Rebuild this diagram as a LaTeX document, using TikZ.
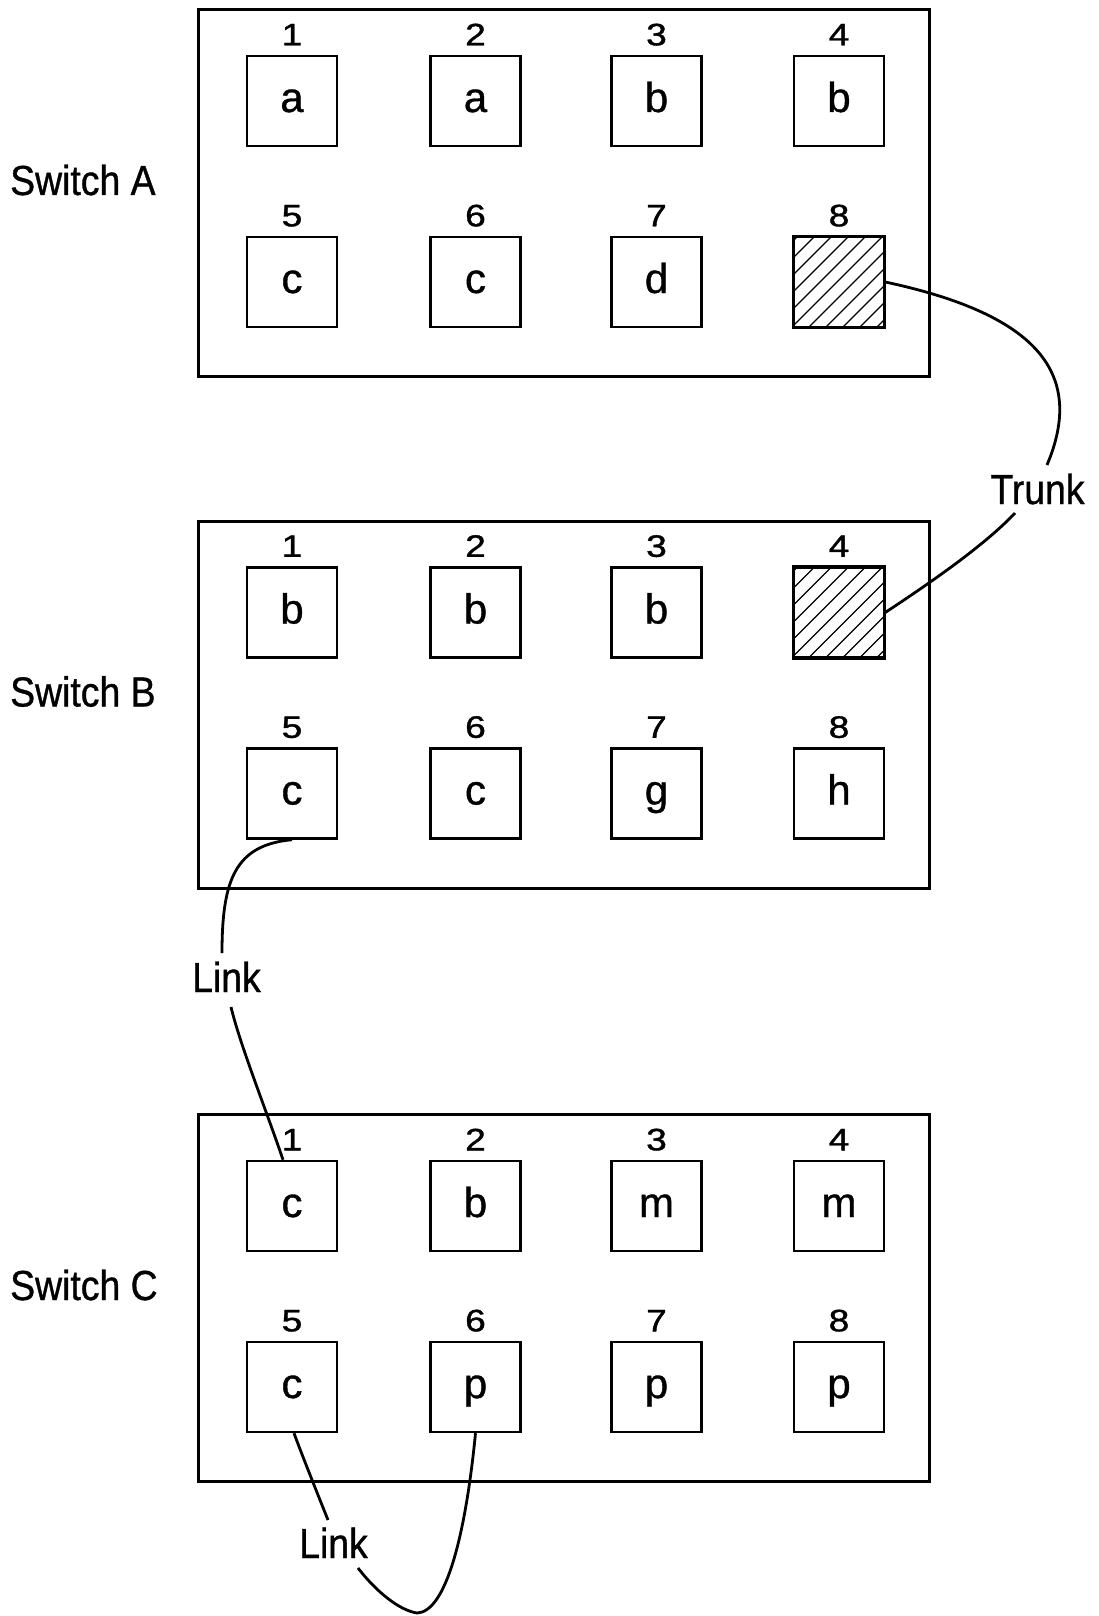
\documentclass[tikz,border=0pt]{standalone}
\usepackage{fontspec}
\setmainfont{Liberation Sans}[FakeBold=0.8]
\newfontfamily\narrowfam{Liberation Sans}[FakeStretch=0.89,FakeBold=0.8]
\newfontfamily\widefam{Liberation Sans}[FakeStretch=1.2,FakeBold=1.2]
\newcommand\bigf{\narrowfam\fontsize{42}{48}\selectfont}
\newcommand\letf{\fontsize{42}{48}\selectfont}
\newcommand\numf{\widefam\fontsize{31}{36}\selectfont}
\tikzset{
 frame/.style={draw, line width=3pt, minimum width=731pt, minimum height=367pt, inner sep=0pt},
 port/.style={draw, line width=2.4pt, minimum width=90pt, minimum height=90pt, inner sep=0pt, text height=22pt, text depth=0pt, font=\letf},
 num/.style={inner sep=0pt, font=\numf, anchor=base},
 swlabel/.style={inner sep=0pt, font=\bigf, anchor=base west},
 wlabel/.style={inner sep=0pt, font=\bigf, anchor=base},
 wire/.style={line width=2.8pt},
 hatch/.style={line width=1.3pt}
}
\newcommand\mkswitch[3]{%
 \node[frame] (S#1) at (563.5,#2) {};
 \node[swlabel] (S#1lab) at (10,#2+2) {Switch #1};
 \foreach \L [count=\i] in {#3} {
   \pgfmathtruncatemacro\c{mod(\i-1,4)}
   \pgfmathtruncatemacro\r{int((\i-1)/4)}
   \pgfmathsetmacro\px{{292,475.5,656.5,839}[\c]}
   \pgfmathsetmacro\py{#2-92+181*\r}
   \ifx\L\hmark
     \node[port] (#1\i) at (\px,\py) {};
   \else
     \node[port] (#1\i) at (\px,\py) {\L};
   \fi
   \node[num] (#1n\i) at ([yshift=9.5pt]#1\i.north) {\i};
 }
}
\newcommand\hatchport[1]{%
 \begin{scope}
  \clip (#1.south west) rectangle (#1.north east);
  \foreach \t in {-87,-70,-53,-36,-19,-2,15,32,49,66,83}
    \draw[hatch] ([xshift=\t pt]#1.south west) -- ++(120,-120);
 \end{scope}
 \draw[line width=2.4pt] (#1.south west) rectangle (#1.north east);
}
\def\hmark{H}
\begin{document}
\begin{tikzpicture}[x=1pt,y=-1pt]
\useasboundingbox (0,0) rectangle (1099,1616);
\mkswitch{A}{193}{a,a,b,b,c,c,d,H}
\mkswitch{B}{704.5}{b,b,b,H,c,c,g,h}
\mkswitch{C}{1298}{c,b,m,m,c,p,p,p}
\hatchport{A8}
\hatchport{B4}
% Trunk
\coordinate (t1) at (1047,465);
\coordinate (t2) at (1015,513);
\node[wlabel] (trunk) at (1037.5,504) {Trunk};
\draw[wire] (A8.east) .. controls (1040,315) and (1085,375) .. (t1);
\draw[wire] (t2) .. controls (985,545) and (930,583) .. (B4.east);
% Link B5 - C1
\coordinate (k1) at (222,953);
\coordinate (k2) at (231,1007);
\node[wlabel] (link1) at (226.5,992) {Link};
\draw[wire] (B5.south) .. controls (235,845) and (222,880) .. (k1);
\draw[wire] (k2) .. controls (240,1045) and (268,1115) .. ([xshift=-9pt]C1.north);
% Link C5 - C6
\coordinate (k3) at (328,1520);
\coordinate (k4) at (358,1568);
\node[wlabel] (link2) at (333.5,1558) {Link};
\draw[wire] ([xshift=2pt]C5.south) .. controls (302,1455) and (318,1495) .. (k3);
\draw[wire] (k4) .. controls (375,1590) and (398,1610) .. (417,1613) .. controls (445,1612) and (465,1540) .. (C6.south);
\end{tikzpicture}
\end{document}
